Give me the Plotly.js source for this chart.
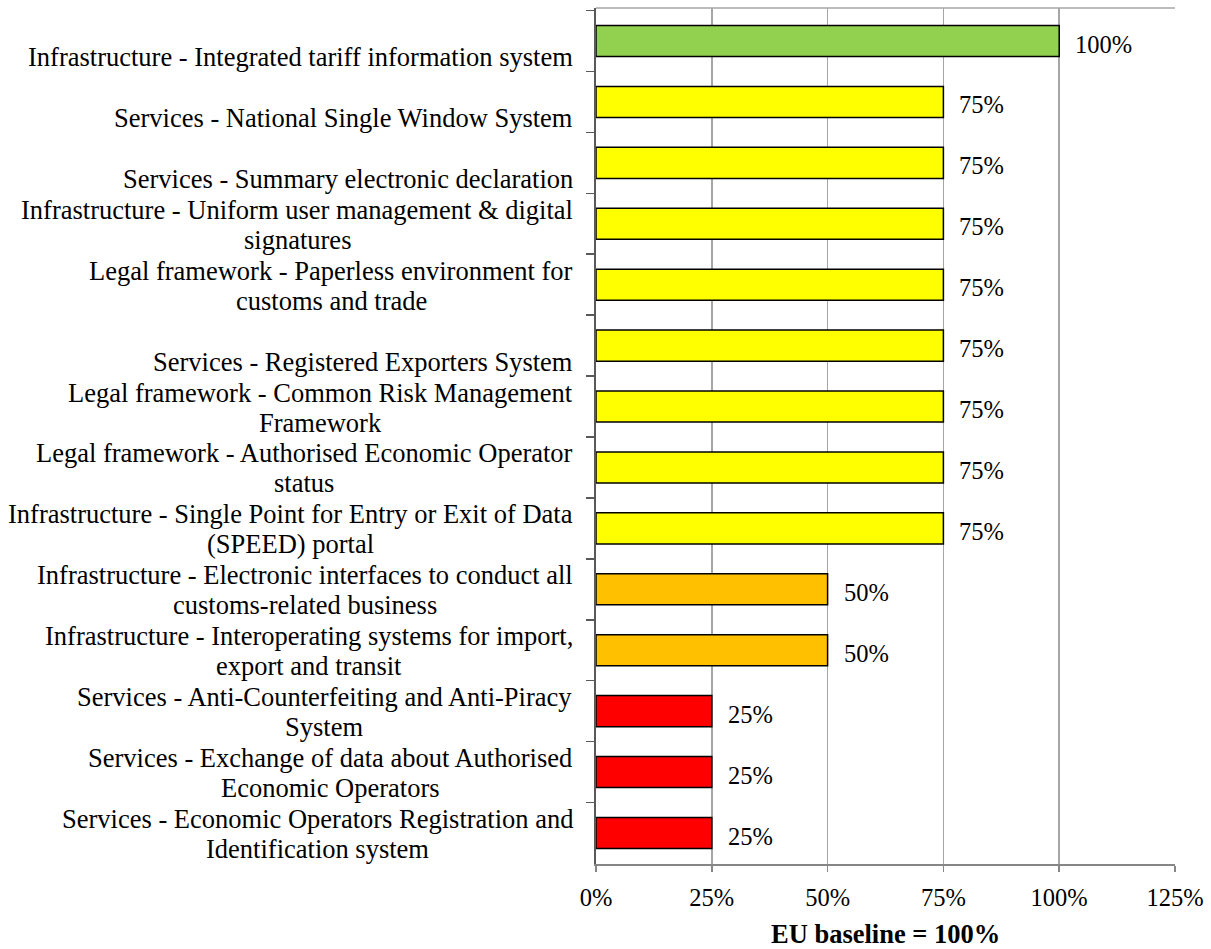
<!DOCTYPE html>
<html>
<head>
<meta charset="utf-8">
<script src="https://cdn.plot.ly/plotly-3.0.1.min.js"></script>
<style>
html,body{margin:0;padding:0;background:#fff;}
#chart{width:1211px;height:949px;}
</style>
</head>
<body>
<div id="chart"></div>
<script>
const categories = [
  "Infrastructure - Integrated tariff information system",
  "Services - National Single Window System",
  "Services - Summary electronic declaration",
  "Infrastructure - Uniform user management & digital<br>signatures",
  "Legal framework - Paperless environment for<br>customs and trade",
  "Services - Registered Exporters System",
  "Legal framework - Common Risk Management<br>Framework",
  "Legal framework - Authorised Economic Operator<br>status",
  "Infrastructure - Single Point for Entry or Exit of Data<br>(SPEED) portal",
  "Infrastructure - Electronic interfaces to conduct all<br>customs-related business",
  "Infrastructure - Interoperating systems for import,<br>export and transit",
  "Services - Anti-Counterfeiting and Anti-Piracy<br>System",
  "Services - Exchange of data about Authorised<br>Economic Operators",
  "Services - Economic Operators Registration and<br>Identification system"
];
const values = [100, 75, 75, 75, 75, 75, 75, 75, 75, 50, 50, 25, 25, 25];
const xTickVals = [0, 25, 50, 75, 100, 125];
const xTickText = ["0%", "25%", "50%", "75%", "100%", "125%"];
const axisTitle = "EU baseline = 100%";

const levelColors = {100: "#92D050", 75: "#FFFF00", 50: "#FFC000", 25: "#FF0000"};
const FONT = "Liberation Serif, Times New Roman, serif";
const FS_LABEL = 26.5;
const FS_NUM = 24.5;
const LINE_H = 30;
const LABEL_GAP = 23;

const canvas = document.createElement("canvas");
const ctx = canvas.getContext("2d");
ctx.font = FS_LABEL + "px 'Liberation Serif'";
function textWidth(s) {
  const t = document.createElement("textarea");
  t.innerHTML = s;
  return ctx.measureText(t.value).width;
}

const trace = {
  type: "bar",
  orientation: "h",
  x: values,
  y: categories,
  marker: {
    color: values.map(v => levelColors[v]),
    line: {color: "#000000", width: 1.5}
  },
  hoverinfo: "none",
  showlegend: false
};

const annotations = [];
categories.forEach((c, i) => {
  const lines = c.split("<br>");
  const maxW = Math.max(...lines.map(textWidth));
  const n = lines.length;
  lines.forEach((ln, k) => {
    const off = n === 1 ? 16 : (k - (n - 1) / 2) * LINE_H + 1;
    annotations.push({
      xref: "paper", yref: "y", x: 0, y: c,
      xanchor: "center", yanchor: "middle",
      xshift: -(LABEL_GAP + maxW / 2), yshift: -off,
      showarrow: false, text: ln,
      font: {family: FONT, size: FS_LABEL, color: "#000"}
    });
  });
  annotations.push({
    xref: "x", yref: "y", x: values[i], y: c,
    xanchor: "left", yanchor: "middle", xshift: 14, yshift: -3,
    showarrow: false, text: values[i] + "%",
    font: {family: FONT, size: FS_NUM, color: "#000"}
  });
});
annotations.push({
  xref: "paper", yref: "paper", x: 0.5, y: 0,
  xanchor: "center", yanchor: "middle", yshift: -70,
  showarrow: false, text: "<b>" + axisTitle + "</b>",
  font: {family: FONT, size: FS_LABEL, color: "#000"}
});

const layout = {
  width: 1211, height: 949,
  margin: {l: 596, r: 36, t: 8, b: 85, pad: 0},
  paper_bgcolor: "#fff", plot_bgcolor: "#fff",
  bargap: 0.49,
  font: {family: FONT, size: FS_NUM, color: "#000"},
  xaxis: {
    range: [0, 125], tickvals: xTickVals, ticktext: xTickText,
    showgrid: true, gridcolor: "#A6A6A6", gridwidth: 1.5,
    showline: true, linecolor: "#868686", linewidth: 1.5,
    ticks: "outside", ticklen: 6, tickcolor: "#868686", tickwidth: 1.5,
    ticklabelstandoff: 5,
    zeroline: false, fixedrange: true,
    tickfont: {family: FONT, size: FS_NUM, color: "#000"}
  },
  yaxis: {
    type: "category", autorange: "reversed",
    showticklabels: false,
    showline: true, linecolor: "#595959", linewidth: 2,
    ticks: "outside", ticklen: 8, tickcolor: "#595959", tickwidth: 1.5,
    tickson: "boundaries",
    showgrid: false, zeroline: false, fixedrange: true
  },
  shapes: [{
    type: "line", xref: "paper", yref: "paper", x0: 0, x1: 1, y0: 1, y1: 1,
    line: {color: "#A6A6A6", width: 1.5}
  }],
  annotations: annotations
};

Plotly.newPlot("chart", [trace], layout, {displayModeBar: false, staticPlot: true});
</script>
</body>
</html>
